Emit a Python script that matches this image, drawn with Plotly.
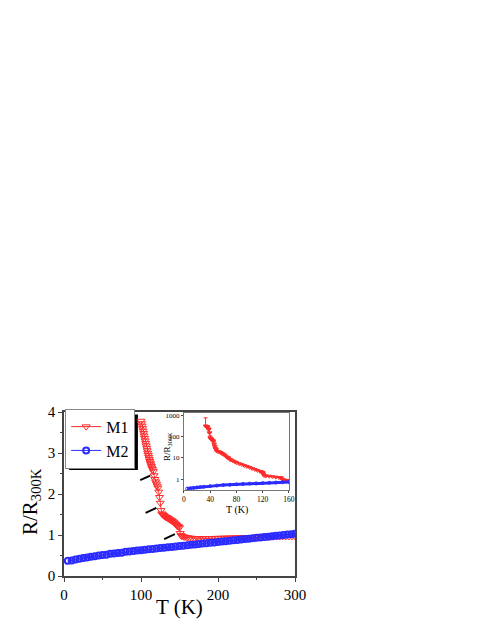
import plotly.graph_objects as go

# main panel: M1
m1_t = [100, 100.7, 101.4, 102, 102.7, 103.4, 104, 104.7, 105.4, 106, 106.7, 107.4, 108, 108.7,
        109.4, 110, 110.7, 111.4, 112, 112.7, 113.4, 114, 115, 116, 117, 118, 119, 120, 121, 122,
        123, 124, 125, 126, 127, 128, 129, 130, 131, 132, 133, 134, 135, 136, 137, 138, 139, 140,
        141, 142, 143, 144, 145, 146, 147, 148, 149, 150, 151, 152, 153, 155, 157, 160, 163, 166,
        170, 173, 176, 180, 184, 188, 192, 196, 200, 204, 208, 212, 216, 220, 224, 228, 232, 236,
        240, 244, 248, 252, 256, 260, 264, 268, 272, 276, 280, 284, 288, 292, 296, 300]
m1_r = [3.78, 3.72, 3.66, 3.60, 3.54, 3.48, 3.42, 3.36, 3.30, 3.24, 3.18, 3.12, 3.06, 3.00,
        2.95, 2.90, 2.85, 2.80, 2.76, 2.72, 2.68, 2.64, 2.60, 2.55, 2.45, 2.36, 2.30, 2.25, 2.20, 2.15,
        2.05, 1.92, 1.78, 1.60, 1.52, 1.50, 1.48, 1.47, 1.45, 1.44, 1.43, 1.42, 1.41, 1.40, 1.38, 1.37,
        1.36, 1.35, 1.33, 1.32, 1.30, 1.28, 1.26, 1.24, 1.22, 1.21, 1.20, 1.18, 1.04, 0.99, 0.97, 0.96,
        0.95, 0.94, 0.93, 0.925, 0.92, 0.918, 0.916, 0.915, 0.916, 0.918, 0.92, 0.922, 0.924, 0.926,
        0.928, 0.93, 0.932, 0.934, 0.936, 0.938, 0.94, 0.942, 0.944, 0.946, 0.948, 0.95, 0.952, 0.954,
        0.956, 0.958, 0.96, 0.961, 0.962, 0.963, 0.964, 0.965, 0.966, 0.967]

# main panel: M2
m2_t = [5, 10, 15, 20, 25, 30, 35, 40, 45, 50, 55, 60, 65, 70, 75, 80, 85, 90, 95, 100,
        105, 110, 115, 120, 125, 130, 135, 140, 145, 150, 155, 160, 165, 170, 175, 180, 185, 190,
        195, 200, 205, 210, 215, 220, 225, 230, 235, 240, 245, 250, 255, 260, 265, 270, 275, 280,
        285, 290, 295, 300]
m2_r = [0.37, 0.38, 0.40, 0.42, 0.44, 0.45, 0.47, 0.48, 0.50, 0.51, 0.52, 0.54, 0.55, 0.56,
        0.57, 0.59, 0.60, 0.61, 0.62, 0.63, 0.64, 0.65, 0.66, 0.67, 0.68, 0.69, 0.70, 0.71, 0.72,
        0.73, 0.74, 0.75, 0.76, 0.77, 0.78, 0.79, 0.80, 0.81, 0.82, 0.83, 0.84, 0.85, 0.86, 0.87,
        0.88, 0.89, 0.90, 0.91, 0.92, 0.93, 0.94, 0.95, 0.96, 0.97, 0.98, 0.99, 1.00, 1.01, 1.02, 1.03]

# inset (log scale)
in1_t = [33, 34, 35, 36, 37, 38, 39, 40, 41, 42, 43, 44, 45, 46, 47, 48, 49, 50, 52, 54, 56, 58,
         60, 62, 64, 66, 68, 70, 72, 75, 78, 80, 84, 88, 92, 96, 100, 104, 108, 112, 116, 118, 120,
         121, 122, 125, 130, 135, 140, 145, 148, 150, 152, 155, 158, 160]
in1_r = [310, 300, 290, 280, 230, 215, 150, 87, 80, 75, 68, 66, 60, 45, 35, 28, 25, 21, 20, 19,
         18, 16, 15, 13.5, 12, 10.5, 10, 8.5, 8, 7.2, 6.5, 6, 5.4, 4.9, 4.4, 4.0, 3.6, 3.2, 2.9,
         2.6, 2.35, 2.25, 2.1, 1.8, 1.5, 1.45, 1.4, 1.33, 1.27, 1.22, 1.2, 1.0, 0.93, 0.9, 0.88, 0.87]
in1_err = [440, 0, 0, 0, 60, 0, 0, 20, 0, 0, 0, 0, 0, 0, 0, 0, 0, 0, 0, 0, 0, 0, 0, 0, 0, 0, 0, 0,
           0, 0, 0, 0, 0, 0, 0, 0, 0, 0, 0, 0, 0, 0, 0, 0, 0, 0, 0, 0, 0, 0, 0, 0, 0, 0, 0, 0]
in2_t = [5, 10, 15, 20, 25, 30, 40, 50, 60, 70, 80, 90, 100, 110, 120, 130, 140, 150, 160]
in2_r = [0.37, 0.38, 0.40, 0.42, 0.44, 0.45, 0.48, 0.51, 0.54, 0.56, 0.59, 0.61, 0.63, 0.65,
         0.67, 0.69, 0.71, 0.73, 0.75]

red = "#ff2b2b"
blue = "#2b2bff"
font = "Liberation Serif"
axcol = "#444444"

fig = go.Figure()
fig.add_trace(go.Scatter(x=m1_t, y=m1_r, name="M1", mode="lines+markers",
                         line=dict(color=red, width=1),
                         marker=dict(symbol="triangle-down-open", size=7, color=red, line=dict(width=1))))
fig.add_trace(go.Scatter(x=m2_t, y=m2_r, name="M2", mode="lines+markers",
                         line=dict(color=blue, width=1),
                         marker=dict(symbol="circle-open", size=6, color=blue, line=dict(width=2))))

fig.add_trace(go.Scatter(x=in1_t, y=in1_r, xaxis="x2", yaxis="y2", showlegend=False,
                         mode="lines+markers", line=dict(color=red, width=1),
                         marker=dict(symbol="triangle-down-open", size=4, color=red),
                         error_y=dict(type="data", array=in1_err, arrayminus=[0] * len(in1_err),
                                      color=red, thickness=1, width=2)))
fig.add_trace(go.Scatter(x=in2_t, y=in2_r, xaxis="x2", yaxis="y2", showlegend=False,
                         mode="lines+markers", line=dict(color=blue, width=3),
                         marker=dict(symbol="circle-open", size=3, color=blue)))

# short black marks pointing at the steps
for x0, y0, x1, y1 in [(99, 2.34, 112, 2.45), (106, 1.54, 120, 1.66), (130, 0.90, 144, 1.02)]:
    fig.add_shape(type="line", x0=x0, y0=y0, x1=x1, y1=y1, xref="x", yref="y",
                  line=dict(color="black", width=2))

# legend shadow
fig.add_shape(type="rect", xref="paper", yref="paper", x0=0.022, x1=0.32, y0=0.646, y1=0.985,
              fillcolor="black", line=dict(width=0), layer="below")

# axis titles
titles = [("T (K)", 0.498, -0.189, 0, 21),
          ("R/R<sub>300K</sub>", -0.143, 0.457, -90, 21),
          ("T (K)", 0.749, 0.403, 0, 10),
          ("R/R<sub>300K</sub>", 0.450, 0.793, -90, 9)]
for txt, tx, ty, ang, sz in titles:
    fig.add_annotation(text=txt, xref="paper", yref="paper", x=tx, y=ty, textangle=ang,
                       xanchor="center", yanchor="middle", showarrow=False, font=dict(size=sz))

fig.update_layout(
    width=491, height=635,
    margin=dict(l=56, r=204, t=404, b=67),
    paper_bgcolor="white", plot_bgcolor="rgba(0,0,0,0)",
    font=dict(family=font, color="black"),
    showlegend=True,
    legend=dict(x=0.005, y=1.02, xanchor="left", yanchor="top", bgcolor="white",
                bordercolor="#888888", borderwidth=1, font=dict(size=16, family=font),
                tracegroupgap=0, itemwidth=30),
    xaxis=dict(range=[0, 300], domain=[0, 1], tickvals=[0, 100, 200, 300], ticks="outside",
               ticklen=4, tickcolor=axcol, showline=True, linecolor=axcol, linewidth=1.5, mirror=True,
               showgrid=False, zeroline=False, tickfont=dict(size=15),
               minor=dict(dtick=50, ticks="outside", ticklen=2, tickcolor=axcol)),
    yaxis=dict(range=[0, 4], domain=[0, 1], tickvals=[0, 1, 2, 3, 4], ticks="outside",
               ticklen=4, tickcolor=axcol, showline=True, linecolor=axcol, linewidth=1.5, mirror=True,
               showgrid=False, zeroline=False, tickfont=dict(size=15),
               minor=dict(dtick=0.5, ticks="outside", ticklen=2, tickcolor=axcol)),
    xaxis2=dict(anchor="y2", domain=[0.519, 0.974], range=[0, 160], tickvals=[0, 40, 80, 120, 160],
                ticks="outside", ticklen=2, tickcolor=axcol, showline=True, linecolor="#777777",
                linewidth=1, mirror=True, showgrid=False, zeroline=False, tickfont=dict(size=7.5)),
    yaxis2=dict(anchor="x2", domain=[0.524, 0.994], type="log", range=[-0.5, 3.1],
                tickvals=[1, 10, 100, 1000], ticktext=["1", "10", "100", "1000"],
                ticks="outside", ticklen=2, tickcolor=axcol, showline=True, linecolor="#777777",
                linewidth=1, mirror=True, showgrid=False, zeroline=False, tickfont=dict(size=7)),
)

fig.write_html("out.html")
